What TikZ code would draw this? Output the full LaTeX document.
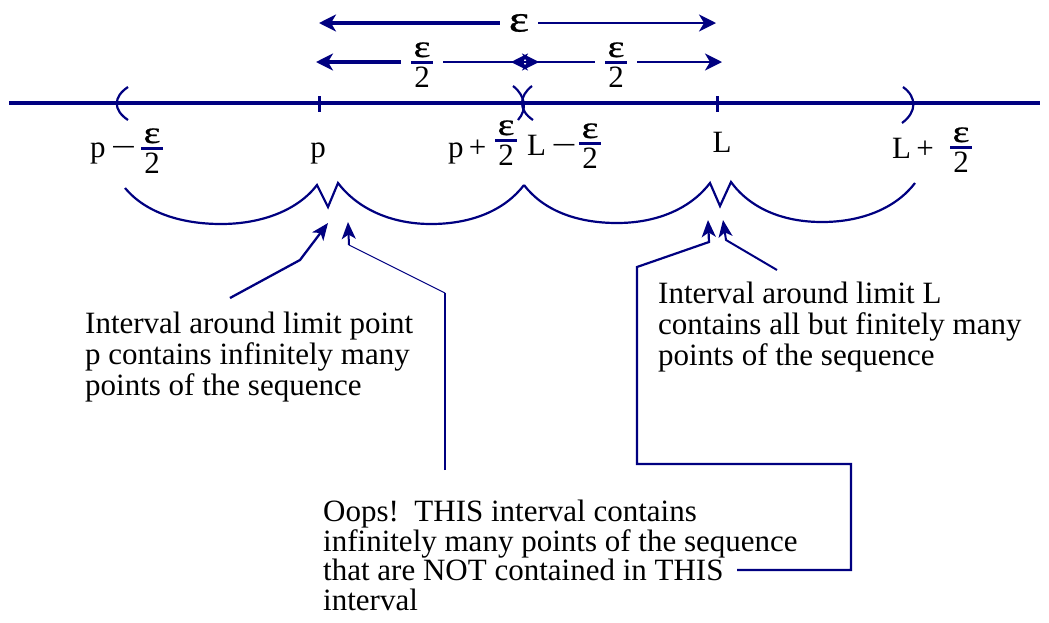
\documentclass[tikz,border=0pt]{standalone}
\usepackage{fontspec}
\usepackage{graphicx}
\setmainfont{Liberation Serif}
\newfontfamily\epsfont[FakeBold=0.7]{Liberation Serif}
\usetikzlibrary{arrows.meta}
\definecolor{nv}{RGB}{0,0,128}
\newcommand{\bigeps}{\scalebox{1.3}[1]{\epsfont ε}}
\newcommand{\lminus}{\scalebox{1.45}[1]{−}}
\tikzset{
  axisline/.style={draw=nv, line width=3.2pt},
  tickmark/.style={draw=nv, line width=3pt},
  paren/.style={draw=nv, line width=2.2pt},
  bracecurve/.style={draw=nv, line width=2.2pt, line join=miter},
  bigarrow/.style={draw=nv, line width=3.2pt, -{Stealth[length=17pt,width=17pt,inset=5pt]}},
  bigarrowthin/.style={draw=nv, line width=2.4pt, -{Stealth[length=17pt,width=17pt,inset=5pt]}},
  annarrow/.style={draw=nv, line width=2.3pt, -{Stealth[length=17pt,width=14pt,inset=4.5pt]}},
  annline/.style={draw=nv, line width=2pt},
  annthin/.style={draw=nv, line width=1.1pt},
  lbl/.style={font=\fontsize{31}{31}\selectfont, inner sep=0pt},
  epsn/.style={font=\fontsize{31}{31}\selectfont, inner sep=0pt},
  epstop/.style={font=\fontsize{37}{37}\selectfont, inner sep=0pt},
  fracrule/.style={draw=nv, line width=3pt},
  annot/.style={font=\fontsize{31}{31}\selectfont, align=left, inner sep=0pt},
  hfrac/.pic={
    \draw[fracrule] (-11,0) -- (11,0);
    \node[epsn, anchor=base] (-e) at (0,-5) {\bigeps};
    \node[lbl, anchor=base] (-d) at (0,25.5) {2};
    \node[minimum width=42pt, minimum height=10pt, inner sep=0pt] (-box) at (0,0) {};
  }
}
\begin{document}
\begin{tikzpicture}[x=1pt,y=-1pt]
\useasboundingbox (0,0) rectangle (1049,622);

% axis
\coordinate (axL) at (9,103);
\coordinate (axR) at (1040,103);
\draw[axisline] (axL) -- (axR);
\coordinate (tp1) at (319,96);  \coordinate (tp2) at (319,112);
\coordinate (tL1) at (717,96);  \coordinate (tL2) at (717,112);
\draw[tickmark] (tp1) -- (tp2);
\draw[tickmark] (tL1) -- (tL2);

% parentheses
\draw[paren] (128,87) .. controls (113,97) and (113,110) .. (128,120);
\draw[paren] (513,86) .. controls (526,96) and (527,110) .. (518,120);
\draw[paren] (532,86) .. controls (519,96) and (518,110) .. (533,120);
\draw[paren] (903,87) .. controls (917,97) and (917,112) .. (902,123);

% top epsilon arrow
\node[epstop, inner xsep=9pt] (epsT) at (519,23) {\bigeps};
\coordinate (tl) at (319,23);
\coordinate (tr) at (716,23);
\draw[bigarrow] (epsT.west) -- (tl);
\draw[bigarrowthin] (epsT.east) -- (tr);

% half arrows
\pic (h1) at (422,62) {hfrac};
\pic (h2) at (616,62) {hfrac};
\coordinate (hl) at (316,62);
\coordinate (hm1) at (539,62);
\coordinate (hm2) at (511,62);
\coordinate (hr) at (722,62);
\draw[bigarrow] (h1-box.west) -- (hl);
\draw[bigarrowthin] (h1-box.east) -- (hm1);
\draw[bigarrowthin] (h2-box.west) -- (hm2);
\draw[bigarrowthin] (h2-box.east) -- (hr);

% labels
\node[lbl, anchor=base west] (lpm) at (90,157) {p\,\lminus};
\pic (f1) at (152,148) {hfrac};
\node[lbl, anchor=base] (lp) at (318,157) {p};
\node[lbl, anchor=base west] (lpp) at (448,157) {p\,+};
\pic (f2) at (506,140) {hfrac};
\node[lbl, anchor=base west] (lLm) at (527,155) {L\,\lminus};
\pic (f3) at (590,143) {hfrac};
\node[lbl, anchor=base] (lL) at (722,152) {L};
\node[lbl, anchor=base west] (lLp) at (892,158) {L\,+};
\pic (f4) at (961,147) {hfrac};

% braces
\draw[bracecurve] (125,188) .. controls (145,212) and (180,224) .. (221,224)
  .. controls (262,224) and (298,210) .. (317,185) -- (328,207) -- (338,183)
  .. controls (357,208) and (390,224) .. (431,224)
  .. controls (472,224) and (505,210) .. (524,185);
\draw[bracecurve] (524,185) .. controls (543,210) and (576,223) .. (617,223)
  .. controls (658,223) and (691,208) .. (710,183) -- (720,206) -- (731,182)
  .. controls (750,208) and (782,222) .. (822,222)
  .. controls (862,222) and (896,208) .. (915,183);

% texts (anchored at the baseline of the last line)
\node[annot, anchor=base west] (tleft) at (85,395)
  {Interval around limit point\\p contains infinitely many\\points of the sequence};
\node[annot, anchor=base west] (tright) at (658,365)
  {Interval around limit L\\contains all but finitely many\\points of the sequence};
\node[annot, anchor=base west, font=\fontsize{31}{29.5}\selectfont] (toops) at (323,610)
  {Oops!\ \ THIS interval contains\\infinitely many points of the sequence\\that are NOT contained in THIS\\interval};

% annotation arrows
\coordinate (a1s) at (230,298);
\coordinate (a1b) at (300,260);
\coordinate (a1t) at (328,223);
\draw[annarrow] (a1s) -- (a1b) -- (a1t);

\coordinate (a2s) at (445,470);
\coordinate (a2b) at (445,293);
\coordinate (a2c) at (349,245);
\coordinate (a2t) at (348,222);
\draw[annline] (a2s) -- (a2b);
\draw[annthin] (a2b) -- (a2c);
\draw[annarrow, line width=2pt] (a2c) -- (a2t);

\coordinate (a3s) at (737,570);
\coordinate (a3b1) at (851,570);
\coordinate (a3b2) at (851,464);
\coordinate (a3b3) at (637,464);
\coordinate (a3b4) at (637,267);
\coordinate (a3b5) at (709,242);
\coordinate (a3t) at (708,220);
\draw[annarrow, line width=2.2pt] (a3s) -- (a3b1) -- (a3b2) -- (a3b3) -- (a3b4) -- (a3b5) -- (a3t);

\coordinate (a4s) at (777,270);
\coordinate (a4b) at (726,240);
\coordinate (a4t) at (723,220);
\draw[annarrow, line width=2pt] (a4s) -- (a4b) -- (a4t);
\end{tikzpicture}
\end{document}
